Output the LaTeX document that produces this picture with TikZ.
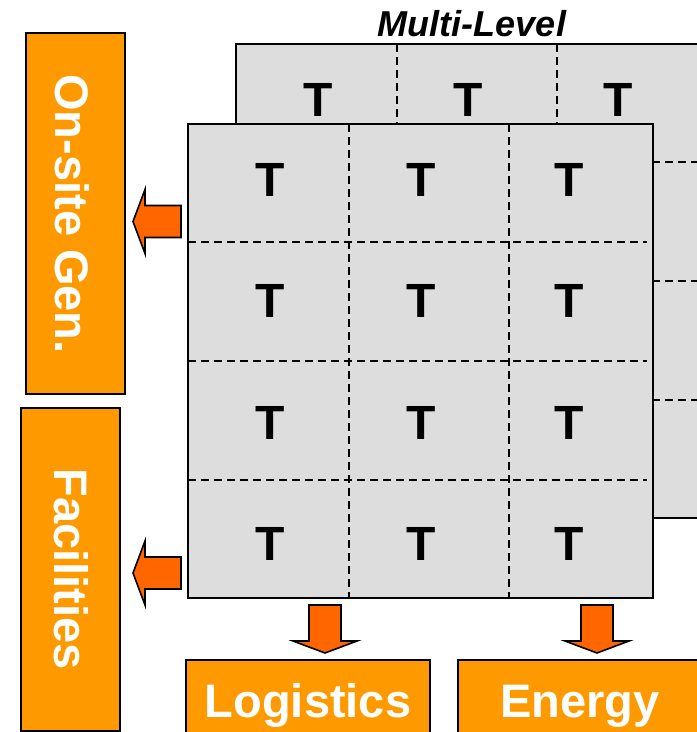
\documentclass[tikz,border=0pt]{standalone}
\usepackage{fontspec}
\setmainfont{Liberation Sans}
\definecolor{boxorange}{HTML}{FF9900}
\definecolor{arroworange}{HTML}{FF6600}
\definecolor{gridgray}{HTML}{DDDDDD}
\tikzset{
  obox/.style={draw=black, line width=2pt, fill=boxorange, inner sep=0pt},
  gridbox/.style={draw=black, line width=2.2pt, fill=gridgray, inner sep=0pt},
  griddash/.style={draw=black, line width=2pt, dash pattern=on 8pt off 5pt},
  tlabel/.style={font=\fontsize{48}{50}\selectfont\bfseries, inner sep=0pt},
  boxtext/.style={font=\fontsize{47}{50}\selectfont\bfseries, text=white, inner sep=0pt, anchor=base},
  titletext/.style={font=\fontsize{36}{40}\selectfont\bfseries\itshape, inner sep=0pt, anchor=base},
  blockarrow/.style={draw=black, line width=1.6pt, fill=arroworange, line join=miter},
  leftarrow/.pic={\path[blockarrow] (0,-16) -- (-36,-16) -- (-36,-32) -- (-48,0) -- (-36,32) -- (-36,16) -- (0,16) -- cycle;},
  downarrow/.pic={\path[blockarrow] (-16,0) -- (16,0) -- (16,36) -- (32,36) -- (0,48) -- (-32,36) -- (-16,36) -- cycle;}
}
\begin{document}
\begin{tikzpicture}[x=1pt, y=-1pt]
\useasboundingbox (0,0) rectangle (697,732);
\clip (0,0) rectangle (697,732);

% title
\node[titletext] (title) at (472,36) {Multi-Level};

% back level
\node[gridbox, minimum width=484pt, minimum height=474pt] (back) at (478,281) {};
\foreach \xx in {397,557} \draw[griddash] (\xx,44) -- (\xx,518);
\foreach \yy in {162,281,400} \draw[griddash] (236,\yy) -- (720,\yy);
\foreach \xx [count=\i] in {318,468,618} \node[tlabel] (b\i) at (\xx,100) {T};

% front level
\node[gridbox, minimum width=465pt, minimum height=474pt] (front) at (420.5,361) {};
\foreach \xx in {349,509} \draw[griddash] (\xx,124) -- (\xx,598);
\foreach \yy in {242,361,480} \draw[griddash] (188,\yy) -- (647,\yy);
\foreach \yy [count=\r] in {180,301,422.5,544}
  \foreach \xx [count=\c] in {270,421,569}
    \node[tlabel] (f\r\c) at (\xx,\yy) {T};

% orange boxes
\node[obox, minimum width=99pt, minimum height=361pt] (onsite) at (75.5,213.5) {};
\node[obox, minimum width=99pt, minimum height=323pt] (facil) at (70.5,569.5) {};
\node[obox, minimum width=244pt, minimum height=110pt] (logi) at (308,715) {};
\node[obox, minimum width=284pt, minimum height=110pt] (energy) at (600,715) {};

\node[boxtext, rotate=-90] (onsitetext) at (56,214) {On-site Gen.};
\node[boxtext, rotate=-90] (faciltext) at (54,569) {Facilities};
\node[boxtext] (logitext) at (308,717) {Logistics};
\node[boxtext] (energytext) at (580,717) {Energy};

% block arrows
\coordinate (a1) at (181,221.5);
\coordinate (a2) at (181,573);
\coordinate (a3) at (325,605);
\coordinate (a4) at (597,605);
\pic at (a1) {leftarrow};
\pic at (a2) {leftarrow};
\pic at (a3) {downarrow};
\pic at (a4) {downarrow};
\end{tikzpicture}
\end{document}
